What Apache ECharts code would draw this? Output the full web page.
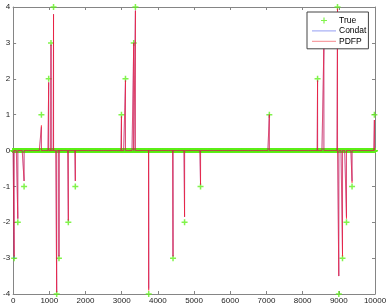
<!DOCTYPE html>
<html>
<head>
<meta charset="utf-8">
<script src="https://cdn.jsdelivr.net/npm/echarts@6/dist/echarts.min.js"></script>
<style>html,body{margin:0;padding:0;background:#fff}#c{width:390px;height:305px}</style>
</head>
<body>
<div id="c"></div>
<script>
// Signal length (indices 0..N)
const N = 10000;
// Nonzero positions of the true sparse signal and its values
const spikeIdx = [28, 130, 303, 782, 983, 1047, 1117, 1204, 1267, 1526, 1719, 2994, 3105, 3333, 3380, 3747, 4419, 4738, 5179, 7080, 8413, 8587, 8964, 9000, 9102, 9212, 9366, 9983];
const trueVal  = [-3, -2, -1, 1, 2, 3, 4, -4, -3, -2, -1, 1, 2, 3, 4, -4, -3, -2, -1, 1, 2, 3, 4, -4, -3, -2, -1, 1];
// Reconstructions at the same positions
const condatVal = [-3.0, -1.9, -0.85, 0.65, 1.9, 2.95, 3.8, -3.95, -2.95, -1.95, -0.85, 0.95, 1.95, 3.0, 3.9, -3.85, -2.95, -1.85, -0.95, 1.0, 1.95, 2.9, 3.95, -3.5, -2.9, -1.85, -0.85, 0.85];
const pdfpVal   = [-2.95, -1.9, -0.85, 0.7, 1.9, 2.95, 3.8, -3.95, -2.95, -1.95, -0.85, 0.95, 1.95, 3.0, 3.9, -3.9, -2.95, -1.85, -0.95, 1.0, 1.95, 2.9, 3.95, -3.5, -2.95, -1.9, -0.9, 0.85];
// Axis ticks
const xTicks = [0, 1000, 2000, 3000, 4000, 5000, 6000, 7000, 8000, 9000, 10000];
const yTicks = [-4, -3, -2, -1, 0, 1, 2, 3, 4];

function dense(vals) {
  const a = new Array(N + 1).fill(0);
  spikeIdx.forEach((i, k) => { a[i] = vals[k]; });
  return a.map((v, i) => [i, v]);
}

const plus = 'path://M-0.25,-1H0.25V1H-0.25Z M-1,-0.25H1V0.25H-1Z';
const plusLegend = 'path://M0,0L0,0Z M24,8L24,8Z M11.4,1H12.6V7H11.4Z M9,3.4H15V4.6H9Z';
const lineLegend = 'path://M0,0L0,0Z M24,8L24,8Z M0,3.4H24V4.6H0Z';
const font = 'Liberation Sans';
const axisGray = '#858585';

const chart = echarts.init(document.getElementById('c'), null, {renderer: 'canvas'});
const xAxisBase = {
  type: 'value', min: xTicks[0], max: xTicks[xTicks.length - 1], interval: 1000,
  axisLine: {show: true, onZero: false, lineStyle: {color: axisGray, width: 1}},
  axisTick: {show: true, inside: true, length: 3, lineStyle: {color: axisGray}},
  splitLine: {show: false}
};
const yAxisBase = {
  type: 'value', min: yTicks[0], max: yTicks[yTicks.length - 1], interval: 1,
  axisLine: {show: true, onZero: false, lineStyle: {color: axisGray, width: 1}},
  axisTick: {show: true, inside: true, length: 3, lineStyle: {color: axisGray}},
  splitLine: {show: false}
};
chart.setOption({
  animation: false,
  backgroundColor: '#fff',
  grid: {left: 12, right: 15, top: 7, bottom: 11, containLabel: false},
  xAxis: [
    Object.assign({}, xAxisBase, {position: 'bottom',
      axisLabel: {show: true, fontSize: 8, fontFamily: font, color: '#222', margin: 3,
        formatter: v => String(v)}}),
    Object.assign({}, xAxisBase, {position: 'top', axisLabel: {show: false}})
  ],
  yAxis: [
    Object.assign({}, yAxisBase, {position: 'left',
      axisLabel: {show: true, fontSize: 8, fontFamily: font, color: '#222', margin: 3,
        formatter: v => String(v)}}),
    Object.assign({}, yAxisBase, {position: 'right', axisLabel: {show: false}})
  ],
  legend: {
    left: 307, top: 12, orient: 'vertical',
    backgroundColor: '#fff', borderColor: '#444', borderWidth: 1, borderRadius: 0,
    padding: [4, 2, 3, 5], itemWidth: 24, itemHeight: 8, itemGap: 1.4,
    textStyle: {fontSize: 8.5, fontFamily: font, color: '#000', padding: [0, 0, 0, -2]},
    data: [
      {name: 'True', icon: plusLegend, itemStyle: {color: '#62f01e'}},
      {name: 'Condat', icon: lineLegend, itemStyle: {color: '#aab2f6', opacity: 1}},
      {name: 'PDFP', icon: lineLegend, itemStyle: {color: '#f7a0a4', opacity: 1}}
    ]
  },
  series: [
    {
      name: 'True', type: 'scatter', data: dense(trueVal),
      symbol: plus, symbolSize: v => (v[1] === 0 ? 5 : 6),
      itemStyle: {color: '#62f01e'},
      large: false, progressive: 0, silent: true, z: 1
    },
    {
      name: 'Condat', type: 'line', data: dense(condatVal),
      symbol: 'none', showSymbol: false,
      lineStyle: {color: '#3344ff', width: 1, opacity: 0.4},
      itemStyle: {color: '#3344ff', opacity: 0.4},
      silent: true, z: 2
    },
    {
      name: 'PDFP', type: 'line', data: dense(pdfpVal),
      symbol: 'none', showSymbol: false,
      lineStyle: {color: '#ff1020', width: 1, opacity: 0.6},
      itemStyle: {color: '#ff1020', opacity: 0.6},
      silent: true, z: 3
    }
  ]
});
</script>
</body>
</html>
